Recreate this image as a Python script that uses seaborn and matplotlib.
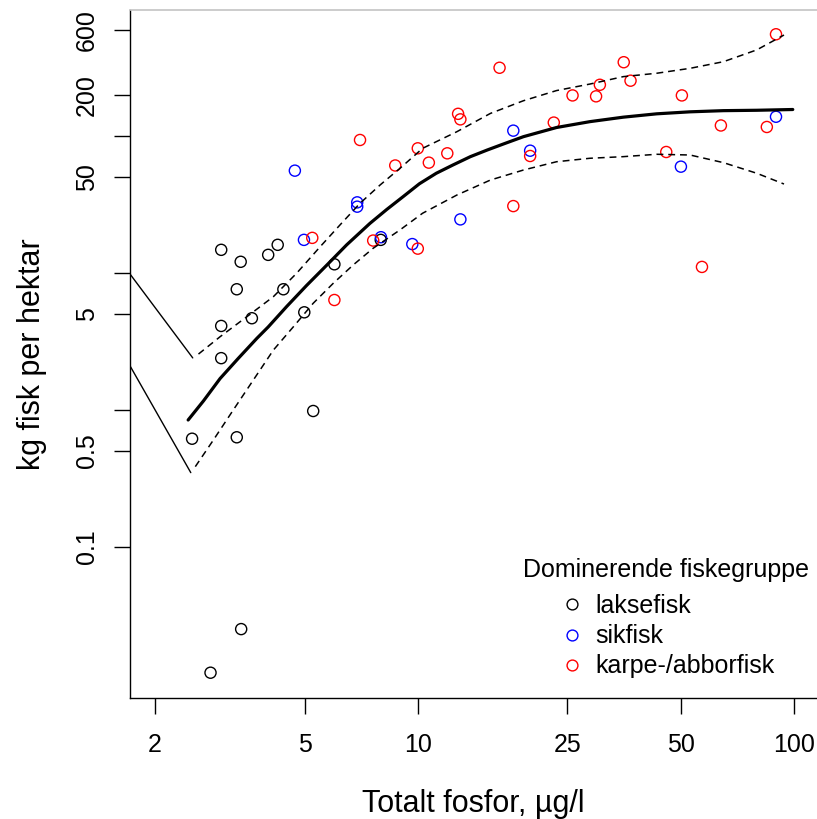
import numpy as np
import pandas as pd
import matplotlib
matplotlib.use("Agg")
import matplotlib.pyplot as plt
import seaborn as sns
from matplotlib.lines import Line2D
from matplotlib.ticker import FixedLocator, FixedFormatter, NullLocator

# ---------------- data ----------------
laks_x = [3.0, 3.38, 4.00, 4.24, 3.30, 4.39, 3.0, 3.62, 4.99, 6.00, 3.0, 5.27, 2.51, 3.30, 7.97, 2.81, 3.39]
laks_y = [14.8, 12.1, 13.6, 16.1, 7.62, 7.62, 4.11, 4.68, 5.17, 11.6, 2.39, 0.982, 0.616, 0.631, 17.5, 0.0120, 0.0250]

sik_x = [4.71, 4.98, 6.90, 6.90, 7.98, 9.67, 12.98, 17.95, 19.9, 50.1, 89.7]
sik_y = [56.1, 17.5, 32.9, 30.6, 18.3, 16.3, 24.7, 110, 78.5, 60.0, 139]

karpe_x = [5.24, 6.00, 7.02, 7.61, 8.71, 10.0, 10.0, 10.7, 11.98, 12.8, 12.98, 16.5, 17.95,
           19.9, 23.0, 25.8, 29.8, 30.5, 35.3, 36.8, 45.8, 50.4, 57.0, 64.0, 84.8, 89.7]
karpe_y = [18.1, 6.36, 94.0, 17.3, 61.2, 81.7, 15.1, 64.2, 75.1, 146, 133, 317, 30.9,
           71.8, 126, 199, 196, 238, 348, 255, 76.8, 199, 11.1, 120, 117, 557]

fit_x = [2.45, 2.69, 2.98, 3.33, 3.73, 4.00, 4.48, 5.06, 5.72, 6.47, 7.46, 8.27, 9.15, 10.1,
         11.2, 12.4, 13.8, 15.3, 16.9, 19.1, 23.4, 28.7, 35.2, 43.2, 53.0, 65.0, 79.7, 99.4]
fit_y = [0.844, 1.162, 1.697, 2.38, 3.33, 4.04, 5.70, 8.12, 11.4, 16.1, 23.1, 29.2, 36.3, 45.0,
         53.7, 61.7, 71.0, 79.4, 87.9, 99.4, 116, 128, 138, 146, 151, 154, 155, 157]

upper_x = [2.61, 2.98, 3.51, 4.13, 4.76, 5.50, 6.21, 7.02, 7.94, 8.97, 10.3, 12.7, 15.6, 19.1,
           23.4, 28.7, 35.2, 43.2, 53.0, 65.0, 79.7, 94.2]
upper_y = [2.56, 3.43, 4.80, 6.73, 9.97, 15.6, 22.5, 32.4, 44.1, 58.4, 81.7, 108, 147, 182,
           216, 241, 273, 289, 314, 351, 428, 550]

lower_x = [2.56, 2.86, 3.23, 3.65, 4.13, 4.67, 5.27, 5.96, 6.74, 7.61, 8.97, 10.3, 12.7, 15.6,
           19.1, 23.4, 28.7, 35.2, 43.2, 53.0, 65.0, 79.7, 94.2]
lower_y = [0.385, 0.603, 0.999, 1.65, 2.74, 4.06, 6.02, 8.43, 11.5, 15.2, 20.7, 27.4, 37.2, 47.9,
           56.7, 65.2, 69.1, 71.0, 73.9, 73.0, 64.2, 53.7, 44.8]

# thin solid segments entering from the left edge
seg_up_x = [1.716, 2.52]
seg_up_y = [9.85, 2.40]
seg_lo_x = [1.716, 2.49]
seg_lo_y = [2.10, 0.348]

groups = ["laksefisk", "sikfisk", "karpe-/abborfisk"]
group_colors = ["black", "blue", "red"]
legend_title = "Dominerende fiskegruppe"

x_ticks = [2, 5, 10, 25, 50, 100]
x_ticklabels = ["2", "5", "10", "25", "50", "100"]
y_ticks = [0.1, 0.5, 1, 5, 10, 50, 100, 200, 600]
y_ticklabels = ["0.1", "0.5", "", "5", "", "50", "", "200", "600"]

# ---------------- style ----------------
sns.set_style("white")
plt.rcParams["font.family"] = ["Liberation Sans", "DejaVu Sans"]
plt.rcParams.update({"text.color": "black", "axes.labelcolor": "black",
                     "xtick.color": "black", "ytick.color": "black"})

W, H = 817, 819
fig = plt.figure(figsize=(W / 100, H / 100), dpi=100)
ax = fig.add_axes([130 / W, 1 - 698 / H, (W - 130) / W, (698 - 10) / H])

df = pd.DataFrame({
    "fosfor": laks_x + sik_x + karpe_x,
    "fisk": laks_y + sik_y + karpe_y,
    "gruppe": [groups[0]] * len(laks_x) + [groups[1]] * len(sik_x) + [groups[2]] * len(karpe_x),
})

sns.scatterplot(data=df, x="fosfor", y="fisk", hue="gruppe", hue_order=groups,
                palette=dict(zip(groups, group_colors)), s=64, linewidth=1.0,
                marker="o", legend=False, ax=ax, zorder=3)
coll = ax.collections[-1]
fc = coll.get_facecolors()
coll.set_edgecolors(fc)
coll.set_facecolors("none")

sns.lineplot(x=fit_x, y=fit_y, color="black", lw=2.3, sort=False, estimator=None, ax=ax, zorder=4)
for xs, ys in [(upper_x, upper_y), (lower_x, lower_y)]:
    sns.lineplot(x=xs, y=ys, color="black", lw=1.1, sort=False, estimator=None, ax=ax, zorder=4)
    ax.lines[-1].set_dashes([4.5, 3.2])
for xs, ys in [(seg_up_x, seg_up_y), (seg_lo_x, seg_lo_y)]:
    sns.lineplot(x=xs, y=ys, color="black", lw=1.0, sort=False, estimator=None, ax=ax, zorder=4)

ax.set_xscale("log")
ax.set_yscale("log")
ax.set_xlim(1.716, 115.3)
ax.set_ylim(0.00784, 838)

ax.xaxis.set_major_locator(FixedLocator(x_ticks))
ax.xaxis.set_major_formatter(FixedFormatter(x_ticklabels))
ax.xaxis.set_minor_locator(NullLocator())
ax.yaxis.set_major_locator(FixedLocator(y_ticks))
ax.yaxis.set_major_formatter(FixedFormatter(y_ticklabels))
ax.yaxis.set_minor_locator(NullLocator())

ax.tick_params(axis="both", which="major", direction="out", length=11.5, width=1.0,
               colors="black", labelsize=18, bottom=True, left=True, top=False, right=False)
ax.tick_params(axis="x", pad=14)
ax.tick_params(axis="y", pad=11)
for lab in ax.get_yticklabels():
    lab.set_rotation(90)
    lab.set_va("center")
    lab.set_ha("right")

for side in ["left", "bottom"]:
    ax.spines[side].set_color("black")
    ax.spines[side].set_linewidth(1.0)
ax.spines["right"].set_visible(False)
ax.spines["top"].set_color("#c4c4c4")
ax.spines["top"].set_linewidth(1.2)

ax.set_xlabel("Totalt fosfor, µg/l", fontsize=22, labelpad=22.5)
ax.set_ylabel("kg fisk per hektar", fontsize=22, labelpad=20)

# legend: title as text, entries centred beneath it
fig.text(523 / W, 1 - 570 / H, legend_title, fontsize=18, ha="left", va="center", color="black")
handles = [Line2D([0], [0], marker="o", linestyle="none", markerfacecolor="none",
                  markeredgecolor=c, markersize=7.8, markeredgewidth=1.0) for c in group_colors]
leg = ax.legend(handles, groups, loc="upper left",
                bbox_to_anchor=(559.5 / W, 1 - 594 / H), bbox_transform=fig.transFigure,
                frameon=False, fontsize=18, borderpad=0,
                handlelength=1.0, handletextpad=0.45, labelspacing=0.25, borderaxespad=0)
for t in leg.get_texts():
    t.set_color("black")

fig.savefig("out.png", dpi=100)
